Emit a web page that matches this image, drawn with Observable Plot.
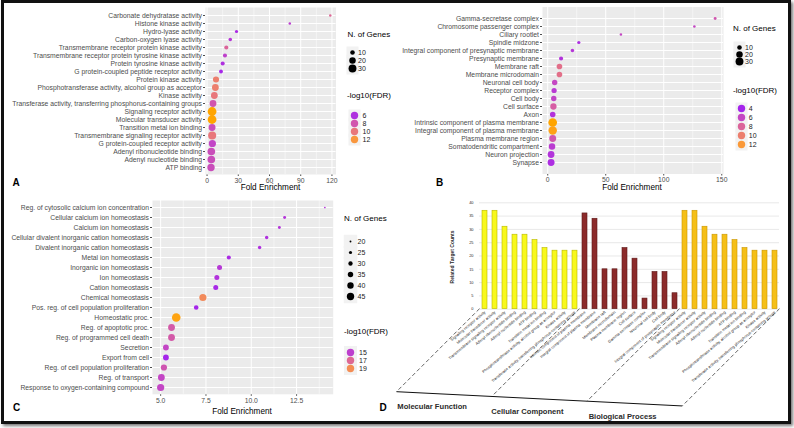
<!DOCTYPE html>
<html><head><meta charset="utf-8">
<script src="https://cdn.jsdelivr.net/npm/d3@7"></script>
<script src="https://cdn.jsdelivr.net/npm/@observablehq/plot@0.6"></script>
<style>
body{margin:0;background:#fff;}
#root{position:relative;width:794px;height:428px;overflow:hidden;font-family:"Liberation Sans",Arial,Helvetica,sans-serif;background:#fff;}
.abs{position:absolute;white-space:nowrap;line-height:1;}
.frame{position:absolute;left:1px;top:0;width:784px;height:418px;border:3px solid #111;box-shadow:2px 2px 3px #777;pointer-events:none;}
svg{position:absolute;}
</style></head><body><div id="root"></div>
<script>
// ---------- Panel A : Molecular Function ----------
const aTerms = ["Carbonate dehydratase activity","Histone kinase activity","Hydro-lyase activity","Carbon-oxygen lyase activity","Transmembrane receptor protein kinase activity","Transmembrane receptor protein tyrosine kinase activity","Protein tyrosine kinase activity","G protein-coupled peptide receptor activity","Protein kinase activity","Phosphotransferase activity, alcohol group as acceptor","Kinase activity","Transferase activity, transferring phosphorus-containing groups","Signaling receptor activity","Molecular transducer activity","Transition metal ion binding","Transmembrane signaling receptor activity","G protein-coupled receptor activity","Adenyl ribonucleotide binding","Adenyl nucleotide binding","ATP binding"];
const aFold  = [118.4,79.5,28.3,22.3,18.5,17.2,15.0,13.4,8.6,8.0,7.0,5.7,4.8,4.8,4.8,4.9,5.1,4.1,4.1,3.8];
const aGenes = [3,3,5,6,8,8,8,7,18,22,22,22,37,37,23,31,25,28,28,26];
const aFdr   = [9.0,6.6,5.8,6.3,8.8,6.8,6.0,5.6,10.5,10.5,10.0,8.0,12.9,12.9,7.5,10.0,7.0,7.5,7.5,7.5];
const aTicks = [0,30,60,90,120];
const aMinor = [15,45,75,105];
const aSizeLegend = [10,20,30];
const aColorLegend = [6,8,10,12];

// ---------- Panel B : Cellular Component ----------
const bTerms = ["Gamma-secretase complex","Chromosome passenger complex","Ciliary rootlet","Spindle midzone","Integral component of presynaptic membrane","Presynaptic membrane","Membrane raft","Membrane microdomain","Neuronal cell body","Receptor complex","Cell body","Cell surface","Axon","Intrinsic component of plasma membrane","Integral component of plasma membrane","Plasma membrane region","Somatodendritic compartment","Neuron projection","Synapse"];
const bFold  = [144.3,126.4,63.1,26.8,21.3,11.5,10.1,10.1,6.0,5.5,5.2,4.9,4.3,4.3,4.3,4.3,3.7,2.9,2.9];
const bGenes = [4,3,3,5,6,8,15,15,14,13,14,19,15,36,34,23,20,22,23];
const bFdr   = [7.0,6.0,6.0,4.5,5.0,4.8,8.8,8.8,6.0,5.2,5.8,7.5,4.8,12.9,12.7,7.0,5.3,4.8,4.5];
const bTicks = [0,50,100,150];
const bMinor = [25,75,125];
const bSizeLegend = [10,20,30];
const bColorLegend = [4,6,8,10,12];

// ---------- Panel C : Biological Process ----------
const cTerms = ["Reg. of cytosolic calcium ion concentration","Cellular calcium ion homeostasis","Calcium ion homeostasis","Cellular divalent inorganic cation homeostasis","Divalent inorganic cation homeostasis","Metal ion homeostasis","Inorganic ion homeostasis","Ion homeostasis","Cation homeostasis","Chemical homeostasis","Pos. reg. of cell population proliferation","Homeostatic proc.","Reg. of apoptotic proc.","Reg. of programmed cell death","Secretion","Export from cell","Reg. of cell population proliferation","Reg. of transport","Response to oxygen-containing compound"];
const cFold  = [14.06,11.84,11.55,10.85,10.46,8.76,8.25,8.10,8.04,7.33,6.96,5.86,5.60,5.60,5.29,5.29,5.18,5.04,5.00];
const cGenes = [19.5,24,24,26,26,29,33,33,33,44,31,52,42,42,37,37,39,42,44];
const cFdr   = [14.6,14.6,14.6,14.4,14.4,14.2,14.7,14.5,14.1,18.8,14.0,20.2,16.3,16.3,15.3,14.0,16.0,15.3,15.3];
const cTicks = [5,7.5,10,12.5];
const cMinor = [6.25,8.75,11.25,13.75];
const cSizeLegend = [20,25,30,35,40,45];
const cColorLegend = [15,17,19];

// ---------- Panel D : bar chart ----------
const dGroups = ["Molecular Function","Cellular Component","Biological Process"];
const dMFLabels = ["Signaling receptor activity","Molecular transducer activity","Transmembrane signaling receptor activity","Adenyl ribonucleotide binding","Adenyl nucleotide binding","ATP binding","Transition metal ion binding","Phosphotransferase activity, alcohol group as acceptor","Kinase activity","Transferase activity, transferring phosphorus-containing groups"];
const dMFCounts = [37,37,31,28,28,26,23,22,22,22];
const dCCLabels = ["Intrinsic component of plasma membrane","Integral component of plasma membrane","Membrane raft","Membrane microdomain","Plasma membrane region","Cell surface","Gamma-secretase complex","Neuronal cell body","Cell body","Integral component of presynaptic membrane"];
const dCCCounts = [36,34,15,15,23,19,4,14,14,6];
const dBPLabels = ["Signaling receptor activity","Molecular transducer activity","Transmembrane signaling receptor activity","Adenyl ribonucleotide binding","Adenyl nucleotide binding","ATP binding","Transition metal ion binding","Phosphotransferase activity, alcohol group as acceptor","Kinase activity","Transferase activity, transferring phosphorus-containing groups"];
const dBPCounts = [37,37,31,28,28,26,23,22,22,22];
const dTicks = [0,5,10,15,20,25,30,35,40];

// ---------- styling ----------
const FONT = '"Liberation Sans", Arial, Helvetica, sans-serif';
const PURPLE = "#A020F0", ORANGE = "#FFA500";
const root = document.getElementById("root");

function label(txt, x, y, o = {}) {
  const d = document.createElement("div");
  d.className = "abs"; d.textContent = txt;
  d.style.left = x + "px"; d.style.top = y + "px";
  d.style.fontSize = (o.size || 8) + "px";
  if (o.bold) d.style.fontWeight = "bold";
  d.style.color = o.color || "#000";
  const ax = o.anchor === "middle" ? "-50%" : o.anchor === "end" ? "-100%" : "0";
  d.style.transform = `translate(${ax},-50%)` + (o.rotate ? ` rotate(${o.rotate}deg)` : "");
  root.append(d);
}
function place(el, left, top) { el.style.left = left + "px"; el.style.top = top + "px"; root.append(el); return el; }
function fixText(svg, size, color) {
  d3.select(svg).selectAll("text").style("font-size", size + "px").style("font-family", FONT).style("fill", color);
}

function dotPanel(cfg) {
  const rows = cfg.terms.map((t, i) => ({term: t, fold: cfg.fold[i], genes: cfg.genes[i], fdr: cfg.fdr[i]}));
  const p = Plot.plot({
    width: cfg.width, height: cfg.height,
    marginLeft: cfg.ml, marginRight: cfg.mr, marginTop: cfg.mt, marginBottom: cfg.mb,
    style: {fontFamily: FONT, fontSize: "6.8px", color: "#4d4d4d", background: "transparent", overflow: "visible"},
    x: {domain: cfg.xDomain, ticks: cfg.ticks, tickFormat: cfg.fmt, tickSize: 2, tickPadding: 1.5, label: null},
    y: {type: "point", domain: cfg.terms, padding: 0.6, tickSize: 2, tickPadding: 1.5, label: null},
    r: cfg.r, color: cfg.color,
    marks: [
      Plot.frame({fill: "#ebebeb", stroke: "none"}),
      Plot.ruleX(cfg.minor, {stroke: "#fff", strokeWidth: 0.5}),
      Plot.ruleX(cfg.ticks, {stroke: "#fff", strokeWidth: 1}),
      Plot.ruleY(cfg.terms, {stroke: "#fff", strokeWidth: 1}),
      Plot.dot(rows, {x: "fold", y: "term", r: "genes", fill: "fdr", stroke: "none"})
    ]
  });
  fixText(p, 6.8, "#4d4d4d");
  return place(p, cfg.left, cfg.top);
}

function legendPlot(cfg) {
  const n = cfg.values.length;
  const top = cfg.firstY - 8, left = cfg.dotX - 8;
  const h = cfg.step * (n - 1) + 16;
  const marks = [
    Plot.dot(cfg.values, {x: () => 0, y: d => d, r: cfg.keyR, symbol: "square", fill: "#f2f2f2"}),
    cfg.kind === "size"
      ? Plot.dot(cfg.values, {x: () => 0, y: d => d, r: d => d, fill: "#000"})
      : Plot.dot(cfg.values, {x: () => 0, y: d => d, r: 3.7, fill: d => d}),
    Plot.text(cfg.values, {x: () => 1, y: d => d, text: d => String(d), textAnchor: "start", fontSize: 7, fill: "#1a1a1a"})
  ];
  const opts = {
    width: 40, height: h, margin: 0,
    style: {fontFamily: FONT, background: "transparent", overflow: "visible"},
    x: {axis: null, domain: [0, 1], range: [8, 8 + cfg.labelX - cfg.dotX]},
    y: {axis: null, type: "point", domain: cfg.values, range: [8, 8 + cfg.step * (n - 1)]},
    marks
  };
  if (cfg.kind === "size") opts.r = cfg.r; else opts.color = cfg.color;
  return place(Plot.plot(opts), left, top);
}

// scales
const rAB = {type: "sqrt", domain: [0, 37], range: [0, 4.4]};
const rC = {type: "sqrt", domain: [19, 52], range: [0.8, 4.3]};
const colA = {type: "linear", domain: [5.3, 12.9], interpolate: d3.interpolateLab(PURPLE, ORANGE)};
const colB = {type: "linear", domain: [3.8, 12.9], interpolate: d3.interpolateLab(PURPLE, ORANGE)};
const colC = {type: "linear", domain: [13.8, 20.3], interpolate: d3.interpolateLab(PURPLE, ORANGE)};

// Panel A
dotPanel({terms: aTerms, fold: aFold, genes: aGenes, fdr: aFdr, ticks: aTicks, minor: aMinor,
  xDomain: [-1.5, 123.9], r: rAB, color: colA, left: 0, top: 0, width: 340, height: 194,
  ml: 205, mr: 4.5, mt: 7, mb: 20});
label("Fold Enrichment", 270.5, 188, {size: 8.2, anchor: "middle"});
label("A", 12.5, 183, {size: 10, bold: true});
label("N. of Genes", 347.5, 35, {size: 8});
legendPlot({kind: "size", values: aSizeLegend, r: rAB, dotX: 352, labelX: 357.5, firstY: 48, step: 12, keyR: 6.8});
label("-log10(FDR)", 347, 96, {size: 8});
legendPlot({kind: "color", values: aColorLegend, color: colA, dotX: 354, labelX: 362, firstY: 109, step: 11.7, keyR: 6.8});

// Panel B
dotPanel({terms: bTerms, fold: bFold, genes: bGenes, fdr: bFdr, ticks: bTicks, minor: bMinor,
  xDomain: [-4.5, 151.5], r: rAB, color: colB, left: 390, top: 0, width: 340, height: 193.5,
  ml: 152, mr: 7, mt: 6.5, mb: 20});
label("Fold Enrichment", 632, 188, {size: 8.2, anchor: "middle"});
label("B", 436, 183, {size: 10, bold: true});
label("N. of Genes", 733, 29, {size: 8});
legendPlot({kind: "size", values: bSizeLegend, r: rAB, dotX: 738.5, labelX: 744, firstY: 42.3, step: 11.8, keyR: 6.8});
label("-log10(FDR)", 733, 90.5, {size: 8});
legendPlot({kind: "color", values: bColorLegend, color: colB, dotX: 740.7, labelX: 748, firstY: 103.3, step: 11.7, keyR: 6.8});

// Panel C
dotPanel({terms: cTerms, fold: cFold, genes: cGenes, fdr: cFdr, ticks: cTicks, minor: cMinor, fmt: d3.format(".1f"),
  xDomain: [4.55, 14.52], r: rC, color: colC, left: 0, top: 193, width: 340, height: 220.8,
  ml: 152, mr: 7.3, mt: 7, mb: 20});
label("Fold Enrichment", 242, 411.5, {size: 8.2, anchor: "middle"});
label("C", 13, 408, {size: 10, bold: true});
label("N. of Genes", 344, 219.3, {size: 8});
legendPlot({kind: "size", values: cSizeLegend, r: rC, dotX: 350, labelX: 357, firstY: 234.3, step: 13.8, keyR: 7.6});
label("-log10(FDR)", 344, 332.3, {size: 8});
legendPlot({kind: "color", values: cColorLegend, color: colC, dotX: 349.5, labelX: 358, firstY: 347.3, step: 13, keyR: 7.3});

// Panel D
const FILL = {"Molecular Function": "#f8f81c", "Cellular Component": "#8c2b2b", "Biological Process": "#f5bf18"};
const EDGE = {"Molecular Function": "#b9b900", "Cellular Component": "#5c1a1a", "Biological Process": "#c99600"};
const dLabels = [...dMFLabels, ...dCCLabels, ...dBPLabels];
const dCounts = [...dMFCounts, ...dCCCounts, ...dBPCounts];
const dGroupOf = [...dMFLabels.map(() => dGroups[0]), ...dCCLabels.map(() => dGroups[1]), ...dBPLabels.map(() => dGroups[2])];
const dKeys = dLabels.map((_, i) => "k" + i);
const dRows = dKeys.map((k, i) => ({key: k, label: dLabels[i], count: dCounts[i], group: dGroupOf[i]}));
const labelOf = Object.fromEntries(dRows.map(d => [d.key, d.label]));
const pD = Plot.plot({
  width: 405, height: 229, marginLeft: 94, marginRight: 11, marginTop: 7.3, marginBottom: 115.3,
  style: {fontFamily: FONT, fontSize: "3.9px", color: "#262626", background: "transparent", overflow: "visible"},
  x: {type: "band", domain: dKeys, paddingInner: 0.5, paddingOuter: 0.25, tickSize: 0, tickPadding: 2.5, tickRotate: -40, tickFormat: k => labelOf[k], label: null},
  y: {domain: [0, 40], ticks: dTicks, tickSize: 0, tickPadding: 6, label: null},
  marks: [
    Plot.ruleY(dTicks, {stroke: "#d9d9d9", strokeWidth: 0.6}),
    Plot.barY(dRows, {x: "key", y: "count", fill: d => FILL[d.group], stroke: d => EDGE[d.group], strokeWidth: 0.6})
  ]
});
fixText(pD, 3.9, "#262626");
place(pD, 385, 195);
// perspective lines & group labels derived from the scales
{
  const sx = pD.scale("x"), sy = pD.scale("y");
  const gap = sx.step - sx.bandwidth;
  const base = sy.apply(0);
  const bounds = [0, 10, 20].map(i => sx.apply(dKeys[i]) - gap / 2);
  bounds.push(sx.apply(dKeys[dKeys.length - 1]) + sx.bandwidth + gap / 2);
  const ends = bounds.map(b => { const t = 83 + 0.0475 * (b - bounds[0]); return [b - t, base + t]; });
  const g = d3.select(pD).append("g");
  bounds.forEach((b, i) => g.append("line").attr("x1", b).attr("y1", base).attr("x2", ends[i][0]).attr("y2", ends[i][1])
    .attr("stroke", "#222").attr("stroke-width", 0.7).attr("stroke-dasharray", "4 2.5"));
  g.append("line").attr("x1", ends[0][0]).attr("y1", ends[0][1]).attr("x2", ends[3][0]).attr("y2", ends[3][1])
    .attr("stroke", "#111").attr("stroke-width", 1);
  const slope = (ends[3][1] - ends[0][1]) / (ends[3][0] - ends[0][0]);
  dGroups.forEach((name, i) => {
    const cx = (ends[i][0] + ends[i + 1][0]) / 2 - 12;
    const cy = ends[0][1] + (cx - ends[0][0]) * slope + 13;
    g.append("text").attr("x", cx).attr("y", cy).attr("dy", "0.35em").attr("text-anchor", "middle")
      .style("font-size", "7.6px").style("font-weight", "bold").style("fill", "#2b2b2b").style("font-family", FONT).text(name);
  });
}
label("Related Target Counts", 452, 257, {size: 5, bold: true, anchor: "middle", rotate: -90, color: "#262626"});
label("D", 379.5, 408, {size: 10, bold: true});

const fr = document.createElement("div"); fr.className = "frame"; root.append(fr);
</script>
</body></html>
